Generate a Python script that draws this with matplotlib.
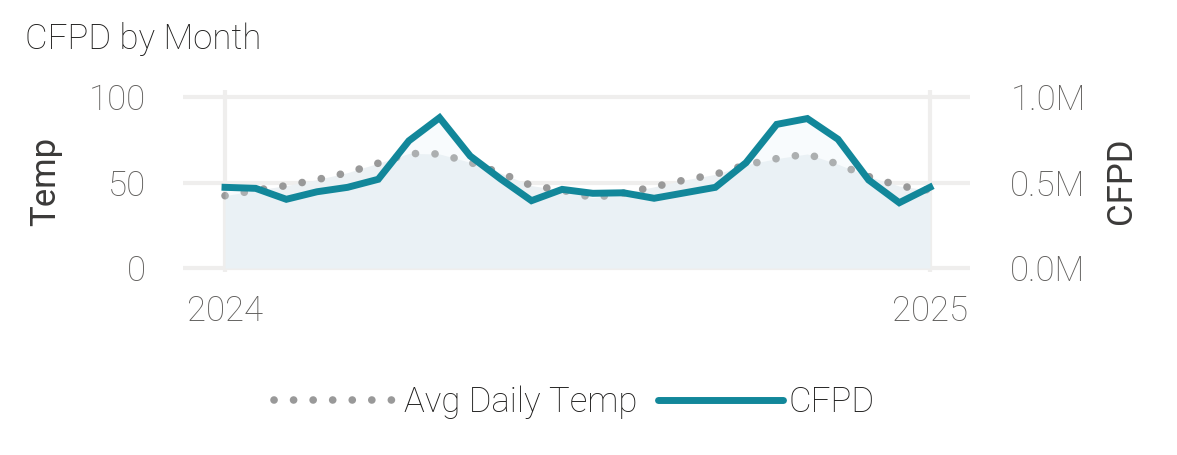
import numpy as np
import matplotlib
matplotlib.use("Agg")
import matplotlib.pyplot as plt
from matplotlib.lines import Line2D

plt.rcParams["font.family"] = ["Roboto", "DejaVu Sans"]
plt.rcParams["font.weight"] = "light"

# monthly series, two seasons
months = np.arange(24)
avg_temp = [42.3, 45.5, 48.2, 51.7, 55.8, 61.3, 67.0, 66.7, 61.8, 55.5, 48.2, 45.5,
            41.1, 43.8, 47.5, 51.5, 54.8, 60.4, 64.0, 66.7, 60.7, 53.5, 48.0, 45.5]
cfpd = [0.472, 0.466, 0.402, 0.446, 0.472, 0.519, 0.744, 0.879, 0.655, 0.520, 0.394, 0.460,
        0.437, 0.440, 0.408, 0.440, 0.472, 0.616, 0.840, 0.874, 0.753, 0.515, 0.382, 0.472]
year_ticks = [0, 23]
year_labels = ["2024", "2025"]
temp_ticks = [0, 50, 100]
cfpd_ticks = [0.0, 0.5, 1.0]

TEAL = "#12879A"
DOT = "#999999"
GRID = "#EFEEED"
TICK = "#605E5C"
LABEL = "#3B3A39"
DOTSTYLE = (0, (0.01, 2.55))

fig = plt.figure(figsize=(11.77, 4.55), dpi=100)
ax = fig.add_axes([0.1555, 0.4022, 0.6687, 0.40])
ax2 = ax.twinx()

ax.set_xlim(-1.37, 24.31)
ax.set_ylim(-2.3, 104.1)
ax2.set_ylim(-0.023, 1.041)

for y in temp_ticks:
    ax.axhline(y, color=GRID, lw=3, zorder=0)
for x in year_ticks:
    ax.axvline(x, color=GRID, lw=3, zorder=0)

# temperature: shaded area + dotted line (lower axes)
ax.fill_between(months, 0, avg_temp, color="#ECF1F4", lw=0, zorder=1)
ax.plot(months, avg_temp, color=DOT, lw=5.5, linestyle=DOTSTYLE,
        dash_capstyle="round", zorder=3)

# CFPD: faint area + solid line (upper axes)
ax2.fill_between(months, 0, cfpd, color="#E6F2F8", alpha=0.25, lw=0, zorder=1)
ax2.plot(months, cfpd, color=TEAL, lw=5, solid_joinstyle="miter", zorder=4)

for a in (ax, ax2):
    for s in a.spines.values():
        s.set_visible(False)
    a.tick_params(length=0, labelsize=25, labelcolor=TICK)

ax.set_xticks(year_ticks)
ax.set_xticklabels(year_labels)
ax.tick_params(axis="x", pad=16)
ax.set_yticks(temp_ticks)
ax.tick_params(axis="y", pad=27)
ax2.set_yticks(cfpd_ticks)
ax2.set_yticklabels([f"{v:.1f}M" for v in cfpd_ticks])
ax2.tick_params(axis="y", pad=29)

ax.set_ylabel("Temp", fontsize=25, color=LABEL, labelpad=19, fontweight="normal")
ax2.set_ylabel("CFPD", fontsize=25, color=LABEL, labelpad=14, fontweight="normal")

fig.text(0.021, 0.915, "CFPD by Month", fontsize=25, color="#1F1E1D", va="center")

handles = [
    Line2D([0], [0], color=DOT, lw=5.5, linestyle=DOTSTYLE, dash_capstyle="round"),
    Line2D([0], [0], color=TEAL, lw=5, solid_capstyle="round"),
]
fig.legend(handles, ["Avg Daily Temp", "CFPD"], loc="center", bbox_to_anchor=(0.488, 0.115),
           ncol=2, frameon=False, fontsize=25, handlelength=3.6, handletextpad=0.15,
           columnspacing=0.6, labelcolor="#1F1E1D")

fig.savefig("out.png", dpi=100)
